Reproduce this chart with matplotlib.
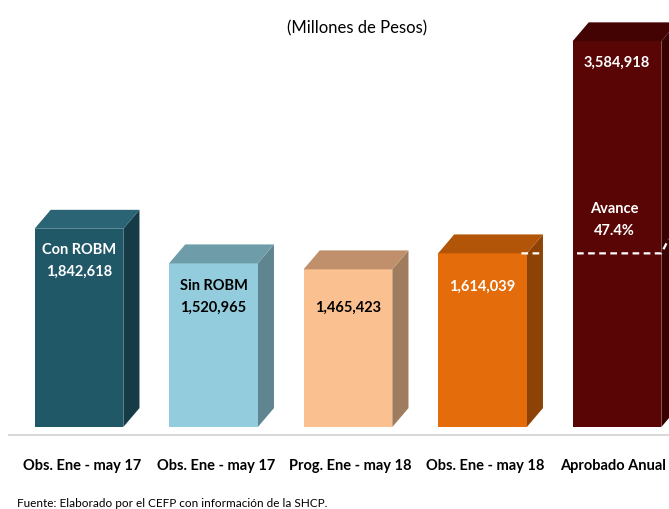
import numpy as np
import matplotlib.pyplot as plt
from matplotlib.patches import Polygon

plt.rcParams['font.family'] = ['Lato', 'DejaVu Sans']

# Data
categorias = ['Obs. Ene - may 17', 'Obs. Ene - may 17', 'Prog. Ene - may 18',
              'Obs. Ene - may 18', 'Aprobado Anual']
valores = [1842618, 1520965, 1465423, 1614039, 3584918]
etiquetas = ['Con ROBM\n1,842,618', 'Sin ROBM\n1,520,965', '1,465,423',
             '1,614,039', '3,584,918']
avance = 47.4

# colours: front, top, side
frente = ['#215868', '#93CDDD', '#FAC090', '#E46C0A', '#5A0505']
arriba = ['#2B6575', '#6E9CA8', '#C0906C', '#B35508', '#440303']
lado = ['#153B46', '#5E8590', '#A07C5E', '#8E4306', '#380202']
color_txt = ['white', 'black', 'black', 'white', 'white']

fig = plt.figure(figsize=(6.69, 5.10), dpi=100)
ax = fig.add_axes([0, 0, 1, 1])
ax.set_xlim(-0.587, 4.387)
ax.set_ylim(-762000, 3978000)
ax.axis('off')

w = 0.66       # front width
dx = 0.12      # depth x
dy = 176000    # depth y

for i, v in enumerate(valores):
    x0 = i - w / 2
    x1 = i + w / 2
    ax.add_patch(Polygon([(x0, 0), (x1, 0), (x1, v), (x0, v)],
                         closed=True, fc=frente[i], ec='none', zorder=3))
    ax.add_patch(Polygon([(x0, v), (x1, v), (x1 + dx, v + dy), (x0 + dx, v + dy)],
                         closed=True, fc=arriba[i], ec='none', zorder=3))
    ax.add_patch(Polygon([(x1, 0), (x1 + dx, dy), (x1 + dx, v + dy), (x1, v)],
                         closed=True, fc=lado[i], ec='none', zorder=2))
    xt = i + 0.02 if i < 4 else i - 0.03
    ax.text(xt, -350000, categorias[i], ha='center', va='center',
            fontsize=10.5, fontweight='bold', color='black')

# value labels inside the bars
ax.text(0, valores[0] - 290000, etiquetas[0], ha='center', va='center',
        fontsize=10.5, fontweight='bold', color=color_txt[0], linespacing=1.7)
ax.text(1, valores[1] - 300000, etiquetas[1], ha='center', va='center',
        fontsize=10.5, fontweight='bold', color=color_txt[1], linespacing=1.7)
ax.text(2, valores[2] - 350000, etiquetas[2], ha='center', va='center',
        fontsize=10.5, fontweight='bold', color=color_txt[2])
ax.text(3, valores[3] - 300000, etiquetas[3], ha='center', va='center',
        fontsize=10.5, fontweight='bold', color=color_txt[3])
ax.text(4, valores[4] - 190000, etiquetas[4], ha='center', va='center',
        fontsize=10.5, fontweight='bold', color=color_txt[4])
ax.text(3.98, valores[3] + 320000, 'Avance\n%.1f%%' % avance, ha='center',
        va='center', fontsize=10.5, fontweight='bold', color='white',
        linespacing=1.7)

# dashed progress line
ax.plot([3 + w / 2 - 0.04, 4 + w / 2, 4 + w / 2 + dx * 0.45],
        [valores[3], valores[3], valores[3] + dy * 0.75],
        color='white', lw=1.6, ls=(0, (3, 2)), zorder=5)

# axis line
ax.plot([-0.52, 4.4], [-75000, -75000], color='#D9D9D9', lw=1.5, zorder=1)

ax.text(0.534, 0.945, '(Millones de Pesos)', transform=ax.transAxes,
        ha='center', va='center', fontsize=12)
ax.text(0.025, 0.012, 'Fuente: Elaborado por el CEFP con información de la SHCP.',
        transform=ax.transAxes, ha='left', va='center', fontsize=8.5)

fig.savefig('out.png', dpi=100)
